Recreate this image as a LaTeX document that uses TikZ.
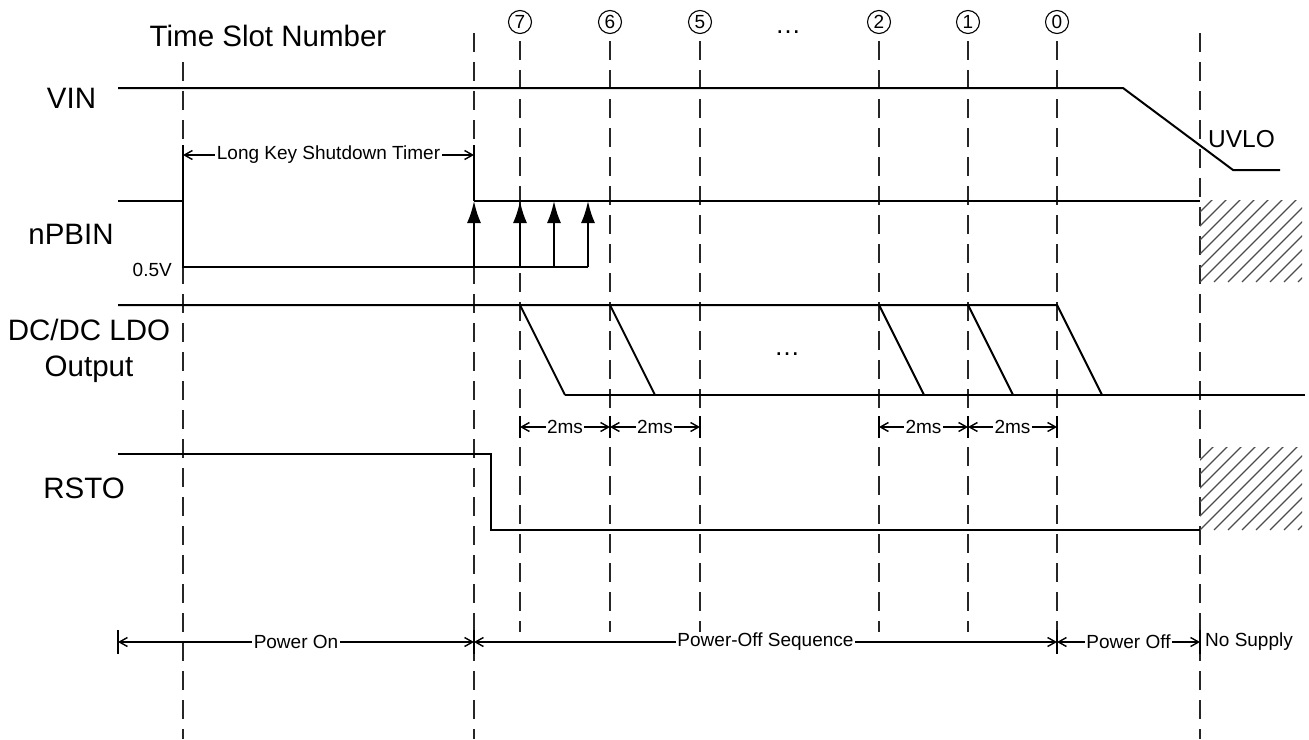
\documentclass[tikz,border=0pt]{standalone}
\usepackage{fontspec}
\setmainfont{Liberation Sans}
\usetikzlibrary{arrows.meta}
\tikzset{
    sig/.style={line width=2pt},
    slotline/.style={line width=1.4pt, dash pattern=on 19pt off 10pt, black!85},
    dim/.style={line width=1.4pt, {Straight Barb[length=8pt,width=9pt]}-{Straight Barb[length=8pt,width=9pt]}},
    endbar/.style={line width=2pt},
    hatch/.style={line width=1.3pt, black!70},
    big/.style={font=\fontsize{29.5}{33}\selectfont},
    small/.style={font=\fontsize{19}{22}\selectfont},
    gap/.style={small, fill=white, inner sep=1.5pt},
    slot/.style={draw, circle, line width=1.1pt, minimum size=23pt, inner sep=0pt, font=\fontsize{19}{20}\selectfont},
    push/.style={line width=2pt, -{Latex[length=22pt,width=14pt]}},
}
\begin{document}
\begin{tikzpicture}[x=1pt, y=-1pt]
    \useasboundingbox (0,0) rectangle (1309,739);

    % Labels
    \node[big, anchor=base] (title) at (268,46) {Time Slot Number};
    \node[big, anchor=base] (vin) at (71.5,108) {VIN};
    \node[big, anchor=base] (npbin) at (71,244) {nPBIN};
    \node[big, anchor=base] (dcdc) at (89,340) {DC/DC LDO};
    \node[big, anchor=base] (outp) at (89,376) {Output};
    \node[big, anchor=base] (rsto) at (84,498) {RSTO};
    \node[small, anchor=base east, inner sep=0pt] (low) at (172,276) {0.5V};
    \node[font=\fontsize{24.5}{27}\selectfont, anchor=base west, inner sep=0pt] (uvlo) at (1208,147) {UVLO};
    \node[font=\fontsize{26}{28}\selectfont] (dotstop) at (788,32) {…};
    \node[font=\fontsize{26}{28}\selectfont] (dotsmid) at (787,354) {…};

    % Time slots
    \draw[slotline] (183,62) -- (183,739);
    \draw[slotline] (474,33) -- (474,739);
    \draw[slotline] (1200,33) -- (1200,739);
    \foreach \x/\n in {520/7, 610/6, 700/5, 879/2, 968/1, 1057/0} {
        \node[slot] (s\n) at (\x,22) {\n};
        \draw[slotline] (\x,41) -- (\x,632);
    }

    % VIN
    \coordinate (V1) at (1123,88);
    \coordinate (V2) at (1233,170);
    \draw[sig] (118,88) -- (V1) -- (V2) -- (1280,170);

    % nPBIN
    \coordinate (P1) at (183,201);
    \coordinate (P2) at (183,267);
    \draw[sig] (118,201) -- (P1) -- (P2) -- (588,267);
    \draw[sig] (474,201) -- (1200,201);
    \foreach \x in {474,520,554,588}
        \draw[push] (\x,267) -- (\x,201);

    % DC/DC LDO output
    \draw[sig] (118,305) -- (1057,305) -- (1102,395);
    \foreach \x in {520,610,879,968}
        \draw[sig] (\x,305) -- ++(45,90);
    \draw[sig] (565,395) -- (1305,395);

    % RSTO
    \draw[sig] (118,454) -- (491,454) -- (491,530) -- (1200,530);

    % No supply
    \foreach \ya/\yb in {200/282, 447/530} {
        \begin{scope}
            \clip (1200,\ya) rectangle (1302,\yb);
            \foreach \k in {-98,-84,...,112}
                \draw[hatch] (1200+\k,\yb) -- ++(90,-90);
        \end{scope}
    }

    % Long key timer
    \draw[endbar] (183,145) -- (P1);
    \draw[endbar] (474,145) -- (474,201);
    \draw[dim] (183,155) -- (474,155) node[gap, midway] (lkt) {Long Key Shutdown Timer};

    % 2ms steps
    \foreach \xa/\xb in {520/610, 610/700, 879/968, 968/1057} {
        \draw[endbar] (\xa,416) -- (\xa,438);
        \draw[endbar] (\xb,416) -- (\xb,438);
        \draw[dim] (\xa,427) -- (\xb,427) node[gap, midway] {2ms};
    }

    % Phases
    \foreach \x in {118,474,1057,1200}
        \draw[endbar] (\x,630) -- (\x,654);
    \draw[dim] (118,642) -- (474,642) node[gap, midway] (pon) {Power On};
    \draw[dim] (474,642) -- (1057,642) node[gap, midway] (poff) {Power-Off Sequence};
    \draw[dim] (1057,642) -- (1200,642) node[gap, midway] (off) {Power Off};
    \node[small, anchor=west, inner sep=0pt] (nosup) at (1205,642) {No Supply};
\end{tikzpicture}
\end{document}
